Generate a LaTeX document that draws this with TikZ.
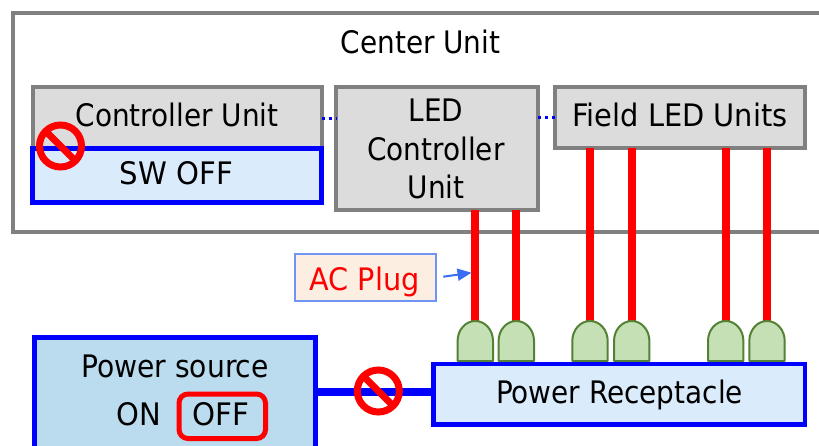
\documentclass[tikz,border=0pt]{standalone}
\usepackage{fontspec}
\setmainfont{DejaVu Sans Condensed}
\usetikzlibrary{arrows.meta}
\definecolor{edgegray}{HTML}{808080}
\definecolor{boxgray}{HTML}{DCDCDC}
\definecolor{paleblue}{HTML}{DAEBFC}
\definecolor{srcblue}{HTML}{BBDBEE}
\definecolor{plugfill}{HTML}{C5E0B4}
\definecolor{plugedge}{HTML}{548235}
\definecolor{acfill}{HTML}{FDEEE2}
\definecolor{acedge}{HTML}{6F94F5}
\definecolor{arrowblue}{HTML}{3A6DF5}
\tikzset{
  box/.style={rectangle,inner sep=0pt,outer sep=0pt,minimum width=#1},
  graybox/.style={box=#1,draw=edgegray,fill=boxgray,line width=4pt},
  bluebox/.style={box=#1,draw=blue,line width=5pt},
  txt/.style={anchor=base,inner sep=0pt,font=\fontsize{31}{31}\selectfont},
  redline/.style={draw=red,line width=8pt},
  plugshape/.style={draw=plugedge,fill=plugfill,line width=2pt,line join=round},
  nosign/.style={circle,draw=red,line width=7pt,minimum size=42pt,inner sep=0pt,outer sep=0pt},
  noslash/.style={draw=red,line width=7pt},
}
\newcommand{\plugat}[2]{%
  \node[inner sep=0pt,outer sep=0pt,minimum width=35.4pt,minimum height=40pt] (#1) at (#2,341) {};
  \draw[plugshape] (#1.south west) -- ++(0,-20) arc[x radius=17.7pt,y radius=20pt,start angle=180,end angle=0] -- (#1.south east) -- cycle;
}
\begin{document}
\begin{tikzpicture}[x=1pt,y=-1pt]
\useasboundingbox (0,0) rectangle (819,445);
\clip (0,0) rectangle (819,445);
\fill[white] (0,0) rectangle (819,445);
% outer frame
\node[box=830pt,minimum height=219.5pt,draw=edgegray,line width=4pt] (center) at (427.5,122.25) {};
\node[txt] (centertxt) at (420.5,53) {Center Unit};
% units
\node[graybox=288.5pt,minimum height=63pt] (ctrl) at (177.25,118.5) {};
\node[txt] (ctrltxt) at (177,126.5) {Controller Unit};
\node[bluebox=289pt,fill=paleblue,minimum height=54pt] (sw) at (177,175) {};
\node[txt,xscale=1.045] (swtxt) at (176.5,184) {SW OFF};
\node[graybox=201.5pt,minimum height=123pt] (led) at (436.75,148.5) {};
\node[txt] (ledtxta) at (436,121) {LED};
\node[txt] (ledtxtb) at (436,160) {Controller};
\node[txt] (ledtxtc) at (436,198) {Unit};
\node[graybox=250.5pt,minimum height=61.5pt] (field) at (679.75,117.25) {};
\node[txt,xscale=1.034] (fieldtxt) at (680,126.5) {Field LED Units};
% dotted links
\draw[blue,line width=3.5pt,dash pattern=on 3.5pt off 3.5pt] (ctrl.east) -- (led.west |- ctrl.east);
\draw[blue,line width=3.5pt,dash pattern=on 3.5pt off 3.5pt] (led.east |- field.west) -- (field.west);
% plugs and AC lines
\coordinate (plugtopa) at (475.3,323);
\coordinate (plugtopb) at (516.3,323);
\coordinate (plugtopc) at (590,323);
\coordinate (plugtopd) at (631.7,323);
\coordinate (plugtope) at (725.7,323);
\coordinate (plugtopf) at (767,323);
\draw[redline] (plugtopa |- led.south) -- (plugtopa);
\draw[redline] (plugtopb |- led.south) -- (plugtopb);
\draw[redline] (plugtopc |- field.south) -- (plugtopc);
\draw[redline] (plugtopd |- field.south) -- (plugtopd);
\draw[redline] (plugtope |- field.south) -- (plugtope);
\draw[redline] (plugtopf |- field.south) -- (plugtopf);
\plugat{pa}{475.3}
\plugat{pb}{516.3}
\plugat{pc}{590}
\plugat{pd}{631.7}
\plugat{pe}{725.7}
\plugat{pf}{767}
% receptacle
\node[bluebox=371.5pt,fill=paleblue,line width=4.5pt,minimum height=60.5pt] (recept) at (619.25,394.25) {};
\node[txt] (recepttxt) at (619.5,403) {Power Receptacle};
% power source
\coordinate (feed) at (375,392);
\node[bluebox=281.5pt,fill=srcblue,minimum height=163pt] (power) at (174.75,418.5) {};
\draw[blue,line width=8pt] (power.east |- feed) -- (recept.west |- feed);
\node[txt,xscale=1.01] (powertxt) at (175,377.5) {Power source};
\node[txt,xscale=1.04] (ontxt) at (138.5,425.5) {ON};
\node[txt,xscale=1.05] (offtxt) at (220.5,425.5) {OFF};
\node[box=86.5pt,minimum height=44.5pt,draw=red,line width=5pt,rounded corners=9pt] (offbox) at (222.25,416.25) {};
% AC plug label
\node[box=141pt,minimum height=47pt,draw=acedge,fill=acfill,line width=2pt] (ac) at (365,277.5) {};
\node[txt,text=red,xscale=1.03] (actxt) at (364.5,290.5) {AC Plug};
\coordinate (acfrom) at (443.3,276.7);
\coordinate (acto) at (471.5,272.7);
\draw[arrowblue,line width=2pt,-{Triangle[length=14pt,width=12pt]}] (acfrom) -- (acto);
% prohibition signs
\node[nosign] (noa) at (60.5,146) {};
\draw[noslash] (noa.135) -- (noa.-45);
\node[nosign] (nob) at (378.3,391) {};
\draw[noslash] (nob.135) -- (nob.-45);
\end{tikzpicture}
\end{document}
